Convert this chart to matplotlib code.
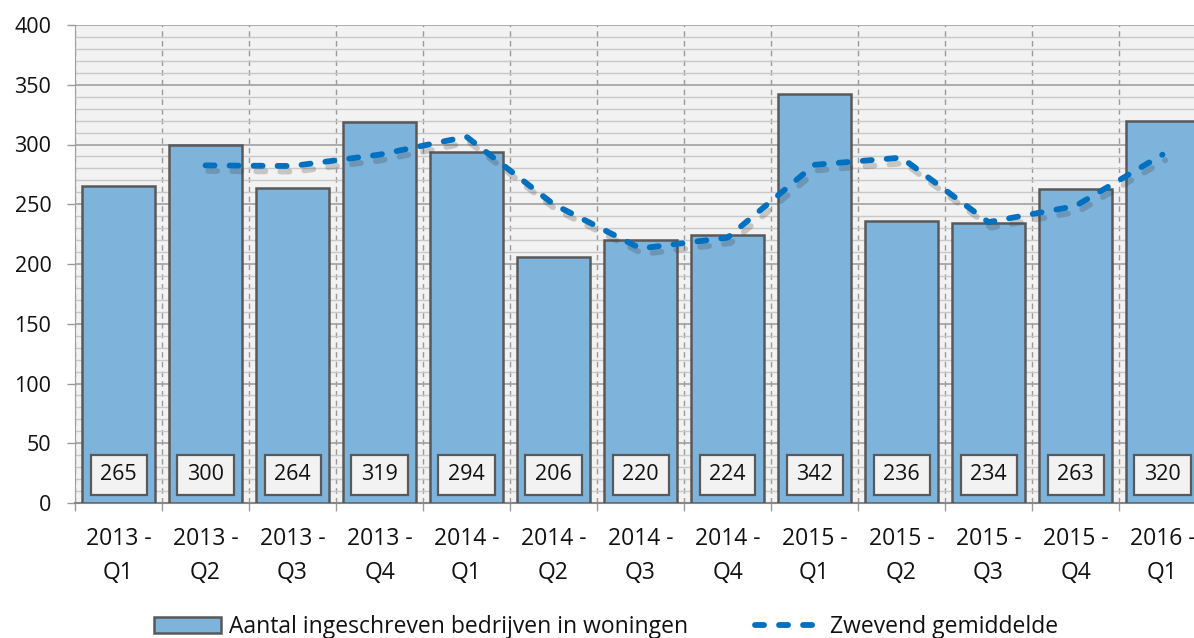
import matplotlib
matplotlib.use("Agg")
import matplotlib.pyplot as plt
from matplotlib import patheffects as pe
from matplotlib.patches import Patch
from matplotlib.lines import Line2D
from matplotlib.ticker import MultipleLocator, FixedLocator

plt.rcParams['font.family'] = ['Open Sans', 'DejaVu Sans']
plt.rcParams['lines.scale_dashes'] = False

# data
quarters = ['2013 -\nQ1', '2013 -\nQ2', '2013 -\nQ3', '2013 -\nQ4',
            '2014 -\nQ1', '2014 -\nQ2', '2014 -\nQ3', '2014 -\nQ4',
            '2015 -\nQ1', '2015 -\nQ2', '2015 -\nQ3', '2015 -\nQ4',
            '2016 -\nQ1']
bedrijven = [265, 300, 264, 319, 294, 206, 220, 224, 342, 236, 234, 263, 320]
# moving average starts at the second quarter
gemiddelde = [282.5, 282, 291.5, 306.5, 250, 213, 222, 283, 289, 235, 248.5, 291.5]

bar_label = 'Aantal ingeschreven bedrijven in woningen'
line_label = 'Zwevend gemiddelde'

BAR_COLOR = '#7EB4DC'
EDGE = '#595959'
LINE_COLOR = '#0070C0'
FS = 16.5      # x labels + legend
FS_NUM = 15.5  # y ticks + value boxes
DASH = (6.5, 10.8)

fig = plt.figure(figsize=(11.94, 6.38), dpi=100)
W, H = 1194, 638
# plot area (right side is cut off in the reference)
ax = fig.add_axes([75 / W, 1 - 503 / H, 1 - 75 / W, (503 - 25) / H])
ax.set_facecolor('#F2F2F2')

x = list(range(len(bedrijven)))
ax.bar(x, bedrijven, width=0.83, color=BAR_COLOR, edgecolor=EDGE,
       linewidth=1.8, zorder=3)

for xi, v in zip(x, bedrijven):
    ax.text(xi, 23.5, str(v), ha='center', va='center', fontsize=FS_NUM, zorder=5,
            color='#111111',
            bbox=dict(boxstyle='square,pad=0.45', fc='#F2F2F2', ec=EDGE, lw=1.6))

ln, = ax.plot(x[1:], gemiddelde, color=LINE_COLOR, lw=4.2,
              dash_capstyle='round', solid_capstyle='round', zorder=4)
ln.set_dashes(DASH)
ln.set_path_effects([pe.SimpleLineShadow(offset=(2, -4), shadow_color='#404040', alpha=0.25),
                     pe.Normal()])

ax.set_ylim(0, 400)
ax.set_xlim(-0.5, -0.5 + (W - 75) / 87)

ax.yaxis.set_major_locator(MultipleLocator(50))
ax.yaxis.set_minor_locator(MultipleLocator(10))
ax.grid(axis='y', which='minor', color='#C8C8C8', lw=1.0, zorder=0)
ax.grid(axis='y', which='major', color='#A0A0A0', lw=1.2, zorder=1)

bounds = [i - 0.5 for i in range(len(bedrijven) + 1)]
ax.xaxis.set_minor_locator(FixedLocator(bounds))
ax.set_xticks(x)
ax.set_xticklabels(quarters, fontsize=FS, linespacing=1.55, color='#111111')
for b in bounds:
    ax.axvline(b, color='#9A9A9A', lw=1.0, ls=(0, (4, 3)), zorder=1)

ax.tick_params(axis='x', which='major', length=0, pad=17)
ax.tick_params(axis='x', which='minor', length=6, color='#9A9A9A', width=1.0)
ax.tick_params(axis='y', which='major', length=6, color='#9A9A9A', width=1.0,
               labelsize=FS_NUM, labelcolor='#111111', pad=11)
ax.tick_params(axis='y', which='minor', length=0)

for s in ['top', 'right']:
    ax.spines[s].set_visible(False)
ax.spines['left'].set_color('#A0A0A0')
ax.spines['bottom'].set_color('#868686')
ax.spines['bottom'].set_linewidth(1.5)

handles = [Patch(fc=BAR_COLOR, ec=EDGE, lw=1.8, label=bar_label),
           Line2D([0], [0], color=LINE_COLOR, lw=4.2, dashes=DASH,
                  dash_capstyle='round', label=line_label)]
leg = fig.legend(handles=handles, loc='center',
                 bbox_to_anchor=(0.5 + 9 / W, 1 - 627 / H),
                 ncol=2, frameon=False, fontsize=FS, handlelength=2.95,
                 handleheight=0.65, handletextpad=0.35, columnspacing=2.9)
for t in leg.get_texts():
    t.set_color('#111111')

fig.savefig('out.png', dpi=100)
